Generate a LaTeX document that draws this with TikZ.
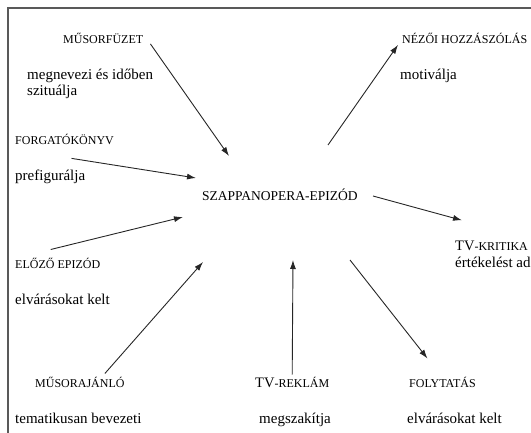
\documentclass[tikz,border=0pt]{standalone}
\usepackage{fontspec}
\setmainfont{Liberation Serif}
\newfontfamily\timesfont{Liberation Serif}
\usepackage{tikz}
\usetikzlibrary{arrows.meta,positioning,calc}

\newcommand{\tvcaps}[1]{{\fontsize{14.5}{17}\selectfont #1}}

\begin{document}
\begin{tikzpicture}[
  x=1pt,y=-1pt,
  lab/.style={inner sep=0pt,anchor=base west,font=\timesfont\fontsize{12}{14}\selectfont},
  txt/.style={inner sep=0pt,anchor=base west,align=left,font=\timesfont\fontsize{15}{16}\selectfont},
  hub/.style={inner sep=0pt,anchor=base west,font=\timesfont\fontsize{13.5}{16}\selectfont},
  frame/.style={draw=black!65,line width=1.5pt},
  arr/.style={-{Latex[length=9pt,width=6pt]},line width=0.9pt,draw=black!85}
]
\useasboundingbox (0,0) rectangle (531,433);
\draw[frame] (8,433) -- (8,8) -- (531,8);

% center
\node[hub] (epizod) at (202,201) {SZAPPANOPERA-EPIZÓD};

% left side
\node[lab] (fuzet) at (63,44) {MŰSORFÜZET};
\node[txt] (fuzetd) at (27,96) {megnevezi és időben\\szituálja};
\node[lab] (konyv) at (15,145) {FORGATÓKÖNYV};
\node[txt] (konyvd) at (15,181) {prefigurálja};
\node[lab] (elozo) at (15,269) {ELŐZŐ EPIZÓD};
\node[txt] (elozod) at (15,305) {elvárásokat kelt};
\node[lab] (ajanlo) at (35,387) {MŰSORAJÁNLÓ};
\node[txt] (ajanlod) at (15,423) {tematikusan bevezeti};

% bottom and right side
\node[lab] (reklam) at (255,388) {\tvcaps{TV}-REKLÁM};
\node[txt] (reklamd) at (259,423) {megszakítja};
\node[lab] (folyt) at (409,387) {FOLYTATÁS};
\node[txt] (folytd) at (407,423) {elvárásokat kelt};
\node[lab] (kritika) at (455,251) {\tvcaps{TV}-KRITIKA};
\node[txt] (kritikad) at (455,268) {értékelést ad};
\node[lab] (nezoi) at (402,44) {NÉZŐI HOZZÁSZÓLÁS};
\node[txt] (nezoid) at (400,80) {motiválja};

% arrow ends near the center
\coordinate (h-fuzet) at (229,156);
\coordinate (h-konyv) at (196,178);
\coordinate (h-elozo) at (183,217);
\coordinate (h-ajanlo) at (203,262);
\coordinate (h-reklam) at (293,260);
\coordinate (h-folyt) at (350,260);
\coordinate (h-kritika) at (373,196);
\coordinate (h-nezoi) at (328,145);

\draw[arr] ([xshift=7pt,yshift=-5pt]fuzet.east) -- (h-fuzet);
\draw[arr] ([xshift=7pt,yshift=-13pt]konyv.south) -- (h-konyv);
\draw[arr] ([xshift=-7pt,yshift=9pt]elozo.north) -- (h-elozo);
\draw[arr] ([xshift=25pt,yshift=3pt]ajanlo.north) -- (h-ajanlo);
\draw[arr] ([yshift=3pt]reklam.north) -- (h-reklam);
\draw[arr] (h-folyt) -- ([xshift=-15pt,yshift=18pt]folyt.north);
\draw[arr] (h-kritika) -- ([xshift=7pt,yshift=21pt]kritika.north west);
\draw[arr] (h-nezoi) -- ([xshift=-4pt,yshift=-6pt]nezoi.west);
\end{tikzpicture}
\end{document}
